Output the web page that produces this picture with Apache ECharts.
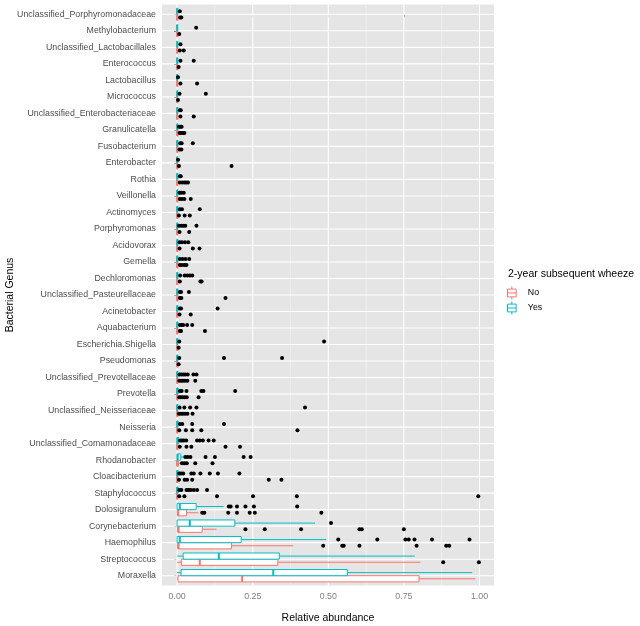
<!DOCTYPE html>
<html><head><meta charset="utf-8">
<script src="https://cdn.jsdelivr.net/npm/echarts@6/dist/echarts.min.js"></script>
<style>html,body{margin:0;padding:0;background:#fff}#c{width:640px;height:626px}</style>
</head><body><div id="c"></div>
<script>
// Categories, top to bottom
const categories = [
  'Unclassified_Porphyromonadaceae','Methylobacterium','Unclassified_Lactobacillales','Enterococcus',
  'Lactobacillus','Micrococcus','Unclassified_Enterobacteriaceae','Granulicatella','Fusobacterium',
  'Enterobacter','Rothia','Veillonella','Actinomyces','Porphyromonas','Acidovorax','Gemella',
  'Dechloromonas','Unclassified_Pasteurellaceae','Acinetobacter','Aquabacterium','Escherichia.Shigella',
  'Pseudomonas','Unclassified_Prevotellaceae','Prevotella','Unclassified_Neisseriaceae','Neisseria',
  'Unclassified_Comamonadaceae','Rhodanobacter','Cloacibacterium','Staphylococcus','Dolosigranulum',
  'Corynebacterium','Haemophilus','Streptococcus','Moraxella'
];
const xTicks = [0, 0.25, 0.5, 0.75, 1];
const xTickLabels = ['0.00', '0.25', '0.50', '0.75', '1.00'];
const xMinorTicks = [0.125, 0.375, 0.625, 0.875];
const groups = ['No', 'Yes'];

// [min, q1, median, q3, max] per category (group "No")
const noStats = [
  [0,0,0,0.002,0.005],[0,0,0,0.002,0.004],[0,0,0,0.002,0.004],[0,0,0,0.001,0.003],
  [0,0,0,0.002,0.005],[0,0,0,0.001,0.002],[0,0,0,0.002,0.004],[0,0,0,0.003,0.005],[0,0,0,0.002,0.005],
  [0,0,0,0.002,0.004],[0,0,0,0.002,0.005],[0,0,0,0.002,0.005],[0,0,0,0.002,0.004],[0,0,0,0.002,0.005],[0,0,0,0.002,0.004],[0,0,0,0.002,0.005],
  [0,0,0,0.002,0.005],[0,0,0,0.002,0.005],[0,0,0,0.002,0.004],[0,0,0,0.002,0.005],[0,0,0,0.001,0.003],
  [0,0,0,0.001,0.003],[0,0,0,0.002,0.004],[0,0,0,0.002,0.004],[0,0,0,0.002,0.004],[0,0,0,0.002,0.004],
  [0,0,0,0.002,0.005],[0,0,0,0.004,0.009],[0,0,0,0.002,0.004],[0,0,0,0.002,0.004],[0,0.001,0.004,0.031,0.07],
  [0,0.002,0.005,0.083,0.13],[0,0.002,0.005,0.18,0.384],[0,0.014,0.075,0.333,0.804],[0,0.003,0.215,0.8,0.986]
];
// [min, q1, median, q3, max] per category (group "Yes")
const yesStats = [
  [0,0,0,0.002,0.004],[0,0,0,0.001,0.002],[0,0,0,0.002,0.004],[0,0,0,0.002,0.004],
  [0,0,0,0.001,0.002],[0,0,0,0.002,0.004],[0,0,0,0.002,0.004],[0,0,0,0.002,0.004],[0,0,0,0.002,0.005],
  [0,0,0,0.001,0.002],[0,0,0,0.002,0.004],[0,0,0,0.002,0.004],[0,0,0,0.002,0.005],[0,0,0,0.002,0.004],[0,0,0,0.002,0.004],[0,0,0,0.002,0.005],
  [0,0,0,0.002,0.005],[0,0,0,0.002,0.004],[0,0,0,0.002,0.004],[0,0,0,0.002,0.005],[0,0,0,0.002,0.004],
  [0,0,0,0.002,0.004],[0,0,0,0.003,0.005],[0,0,0,0.003,0.006],[0,0,0,0.002,0.005],[0,0,0,0.003,0.006],
  [0,0,0.001,0.005,0.007],[0,0,0.002,0.012,0.022],[0,0,0,0.003,0.005],[0,0,0,0.003,0.005],[0,0,0.009,0.063,0.154],
  [0,0,0.042,0.191,0.456],[0,0,0.009,0.212,0.493],[0,0.02,0.138,0.338,0.786],[0,0.013,0.318,0.563,0.976]
];
// Outliers per category
const noOutliers = [
  [0.010,0.014],[0.007],[0.009,0.022],[0.005],
  [0.011,0.066],[0.003],[0.011,0.055],[0.008,0.013,0.019,0.024],[0.008,0.014],
  [0.006,0.18],[0.009,0.017,0.024,0.030,0.036],[0.009,0.016,0.024,0.045],[0.006,0.025,0.042],[0.008,0.04],[0.008,0.052,0.074],[0.009,0.016,0.024,0.031],
  [0.009,0.077,0.081],[0.009,0.014,0.16],[0.008,0.045],[0.009,0.013,0.092],[0.005],
  [0.005],[0.007,0.013,0.019,0.026,0.034,0.06],[0.007,0.012,0.018,0.025,0.032,0.071],[0.006,0.012,0.019,0.026,0.034,0.051],[0.007,0.029,0.05,0.08,0.398],
  [0.009,0.031,0.047,0.16,0.208],[0.016,0.024,0.032,0.06,0.117],[0.006,0.025,0.033,0.05,0.303,0.345],[0.007,0.024,0.132,0.251,0.396,0.996],[0.083,0.09,0.169,0.198,0.24,0.257,0.477],
  [0.226,0.29,0.41,0.603,0.611,0.75],[0.483,0.546,0.551,0.603,0.792,0.89,0.9],[0.88,0.998],[]
];
const yesOutliers = [
  [0.009],[0.063],[0.011],[0.011,0.055],
  [0.003],[0.008,0.095],[0.009,0.012],[0.006,0.011,0.015],[0.01,0.015,0.052],
  [0.003],[0.009,0.012],[0.008,0.014,0.022],[0.009,0.016,0.075],[0.006,0.013,0.02,0.027,0.064],[0.008,0.016,0.026,0.037],[0.009,0.018,0.028,0.04],
  [0.01,0.025,0.034,0.042,0.05],[0.009,0.013,0.039],[0.009,0.013,0.134],[0.009,0.015,0.02,0.033,0.05],[0.007,0.486],
  [0.007,0.155,0.347],[0.008,0.014,0.021,0.027,0.035,0.054,0.064],[0.009,0.015,0.031,0.08,0.087,0.192],[0.008,0.024,0.043,0.064,0.423],[0.009,0.017,0.05,0.155],
  [0.01,0.016,0.022,0.03,0.066,0.075,0.085,0.104,0.121],[0.027,0.035,0.044,0.094,0.125,0.22,0.243],[0.007,0.013,0.02,0.047,0.055,0.077,0.108,0.135,0.206],[0.007,0.014,0.031,0.038,0.045,0.055,0.066,0.099],[0.171,0.177,0.198,0.226,0.254,0.397],
  [0.509],[0.533,0.662,0.755,0.766,0.785,0.843,0.967],[],[]
];

const colors = { No: '#F8766D', Yes: '#00BFC4' };
const offsets = { No: 0.1875, Yes: -0.1875 };
const FONT = '"Liberation Sans", Arial, Helvetica, sans-serif';
const catIdx = categories.map((_, i) => i);

function boxRender(group) {
  const off = offsets[group], col = colors[group];
  return function (params, api) {
    const idx = api.value(0);
    const mn = api.value(1), q1 = api.value(2), md = api.value(3), q3 = api.value(4), mx = api.value(5);
    const yc = api.coord([0, idx + off])[1];
    const hh = api.size([0, 0.1875])[1];
    const px = v => api.coord([v, idx + off])[0];
    const x1 = px(q1), x3 = px(q3);
    return {
      type: 'group',
      children: [
        { type: 'line', shape: { x1: px(mn), y1: yc, x2: x1, y2: yc }, style: { stroke: col, lineWidth: 1 } },
        { type: 'line', shape: { x1: x3, y1: yc, x2: px(mx), y2: yc }, style: { stroke: col, lineWidth: 1 } },
        { type: 'rect', shape: { x: x1, y: yc - hh, width: Math.max(x3 - x1, 0.5), height: 2 * hh }, style: { fill: '#fff', stroke: col, lineWidth: 1 } },
        { type: 'line', shape: { x1: px(md), y1: yc - hh, x2: px(md), y2: yc + hh }, style: { stroke: col, lineWidth: 2 } }
      ]
    };
  };
}
function outlierRender(group) {
  const off = offsets[group];
  return function (params, api) {
    const p = api.coord([api.value(0), api.value(1) + off]);
    return { type: 'circle', shape: { cx: p[0], cy: p[1], r: 2 }, style: { fill: '#000' } };
  };
}
function flatOutliers(arr) {
  const out = [];
  arr.forEach((list, i) => list.forEach(v => out.push([v, i])));
  return out;
}
const boxIcon = 'path://M6,0L6,3M1,3L11,3L11,12L1,12ZM1,7.5L11,7.5M6,12L6,15';

function vLineRender(color, width) {
  return (params, api) => {
    const cs = params.coordSys; const x = api.coord([api.value(0), api.value(1)])[0];
    return { type: 'line', silent: true, shape: { x1: x, y1: cs.y, x2: x, y2: cs.y + cs.height }, style: { stroke: color, lineWidth: width } };
  };
}
const series = [
  { type: 'custom', silent: true, z: 1, data: xMinorTicks.map(v => [v, 0]), encode: { x: 0, y: 1 },
    label: { show: false }, renderItem: vLineRender('#F2F2F2', 0.7) },
  { type: 'custom', silent: true, z: 1, data: xTicks.map(v => [v, 0]), encode: { x: 0, y: 1 },
    label: { show: false }, renderItem: vLineRender('#FFFFFF', 1.1) },
  { type: 'custom', silent: true, z: 1, data: catIdx.map(i => [0, i]), encode: { x: 0, y: 1 },
    label: { show: false },
    renderItem: (params, api) => {
      const cs = params.coordSys; const y = api.coord([api.value(0), api.value(1)])[1];
      return { type: 'line', silent: true, shape: { x1: cs.x, y1: y, x2: cs.x + cs.width, y2: y }, style: { stroke: '#FFFFFF', lineWidth: 1.1 } };
    }
  }
];
groups.forEach(g => {
  const stats = g === 'No' ? noStats : yesStats;
  series.push({
    name: g, type: 'custom', z: 3, itemStyle: { color: colors[g] },
    data: stats.map((s, i) => [i].concat(s)),
    encode: { y: 0, x: [1, 2, 3, 4, 5] },
    renderItem: boxRender(g)
  });
});
groups.forEach(g => {
  const outs = g === 'No' ? noOutliers : yesOutliers;
  series.push({
    name: g + ' outliers', type: 'custom', z: 4, itemStyle: { color: '#000' },
    data: flatOutliers(outs), encode: { x: 0, y: 1 },
    renderItem: outlierRender(g)
  });
});

const chart = echarts.init(document.getElementById('c'), null, { renderer: 'canvas' });
chart.setOption({
  animation: false,
  tooltip: { show: false },
  textStyle: { fontFamily: FONT },
  title: {
    text: '2-year subsequent wheeze', left: 508, top: 269, padding: 0,
    textStyle: { fontSize: 10.5, fontWeight: 'normal', color: '#000', fontFamily: FONT }
  },
  legend: {
    orient: 'vertical', left: 507, top: 286, padding: 0, itemWidth: 12, itemHeight: 13, itemGap: 1,
    textStyle: { fontSize: 8.8, color: '#000', fontFamily: FONT, padding: [0, 0, 0, 5] },
    data: groups.map(g => ({ name: g, icon: boxIcon, itemStyle: { color: '#fff', borderColor: colors[g], borderWidth: 1 } }))
  },
  grid: { left: 162, right: 146, top: 4.4, bottom: 40.4, containLabel: false, outerBoundsMode: 'none',
    show: true, backgroundColor: '#E5E5E5', borderWidth: 0 },
  xAxis: {
    type: 'value', min: -0.05, max: 1.048,
    name: 'Relative abundance', nameLocation: 'middle', nameGap: 27, nameMoveOverlap: false,
    nameTextStyle: { fontSize: 10.5, color: '#000', fontFamily: FONT },
    axisLine: { show: false },
    axisTick: { show: true, length: 3, customValues: xTicks, lineStyle: { color: '#7F7F7F' } },
    axisLabel: { customValues: xTicks, margin: 6, fontSize: 8.8, color: '#7F7F7F', fontFamily: FONT,
      formatter: v => xTickLabels[xTicks.indexOf(v)] !== undefined ? xTickLabels[xTicks.indexOf(v)] : v },
    splitLine: { show: false }
  },
  yAxis: {
    type: 'value', min: -0.6, max: categories.length - 0.4, inverse: true,
    name: 'Bacterial Genus', nameLocation: 'middle', nameGap: 146, nameRotate: 90, nameMoveOverlap: false,
    nameTextStyle: { fontSize: 10.5, color: '#000', fontFamily: FONT },
    axisLine: { show: false },
    axisTick: { show: true, length: 3, customValues: catIdx, lineStyle: { color: '#4D4D4D' } },
    axisLabel: { customValues: catIdx, margin: 6, fontSize: 8.8, color: '#4D4D4D', fontFamily: FONT,
      formatter: v => categories[Math.round(v)] },
    splitLine: { show: false }
  },
  series: series
});
</script>
</body></html>
